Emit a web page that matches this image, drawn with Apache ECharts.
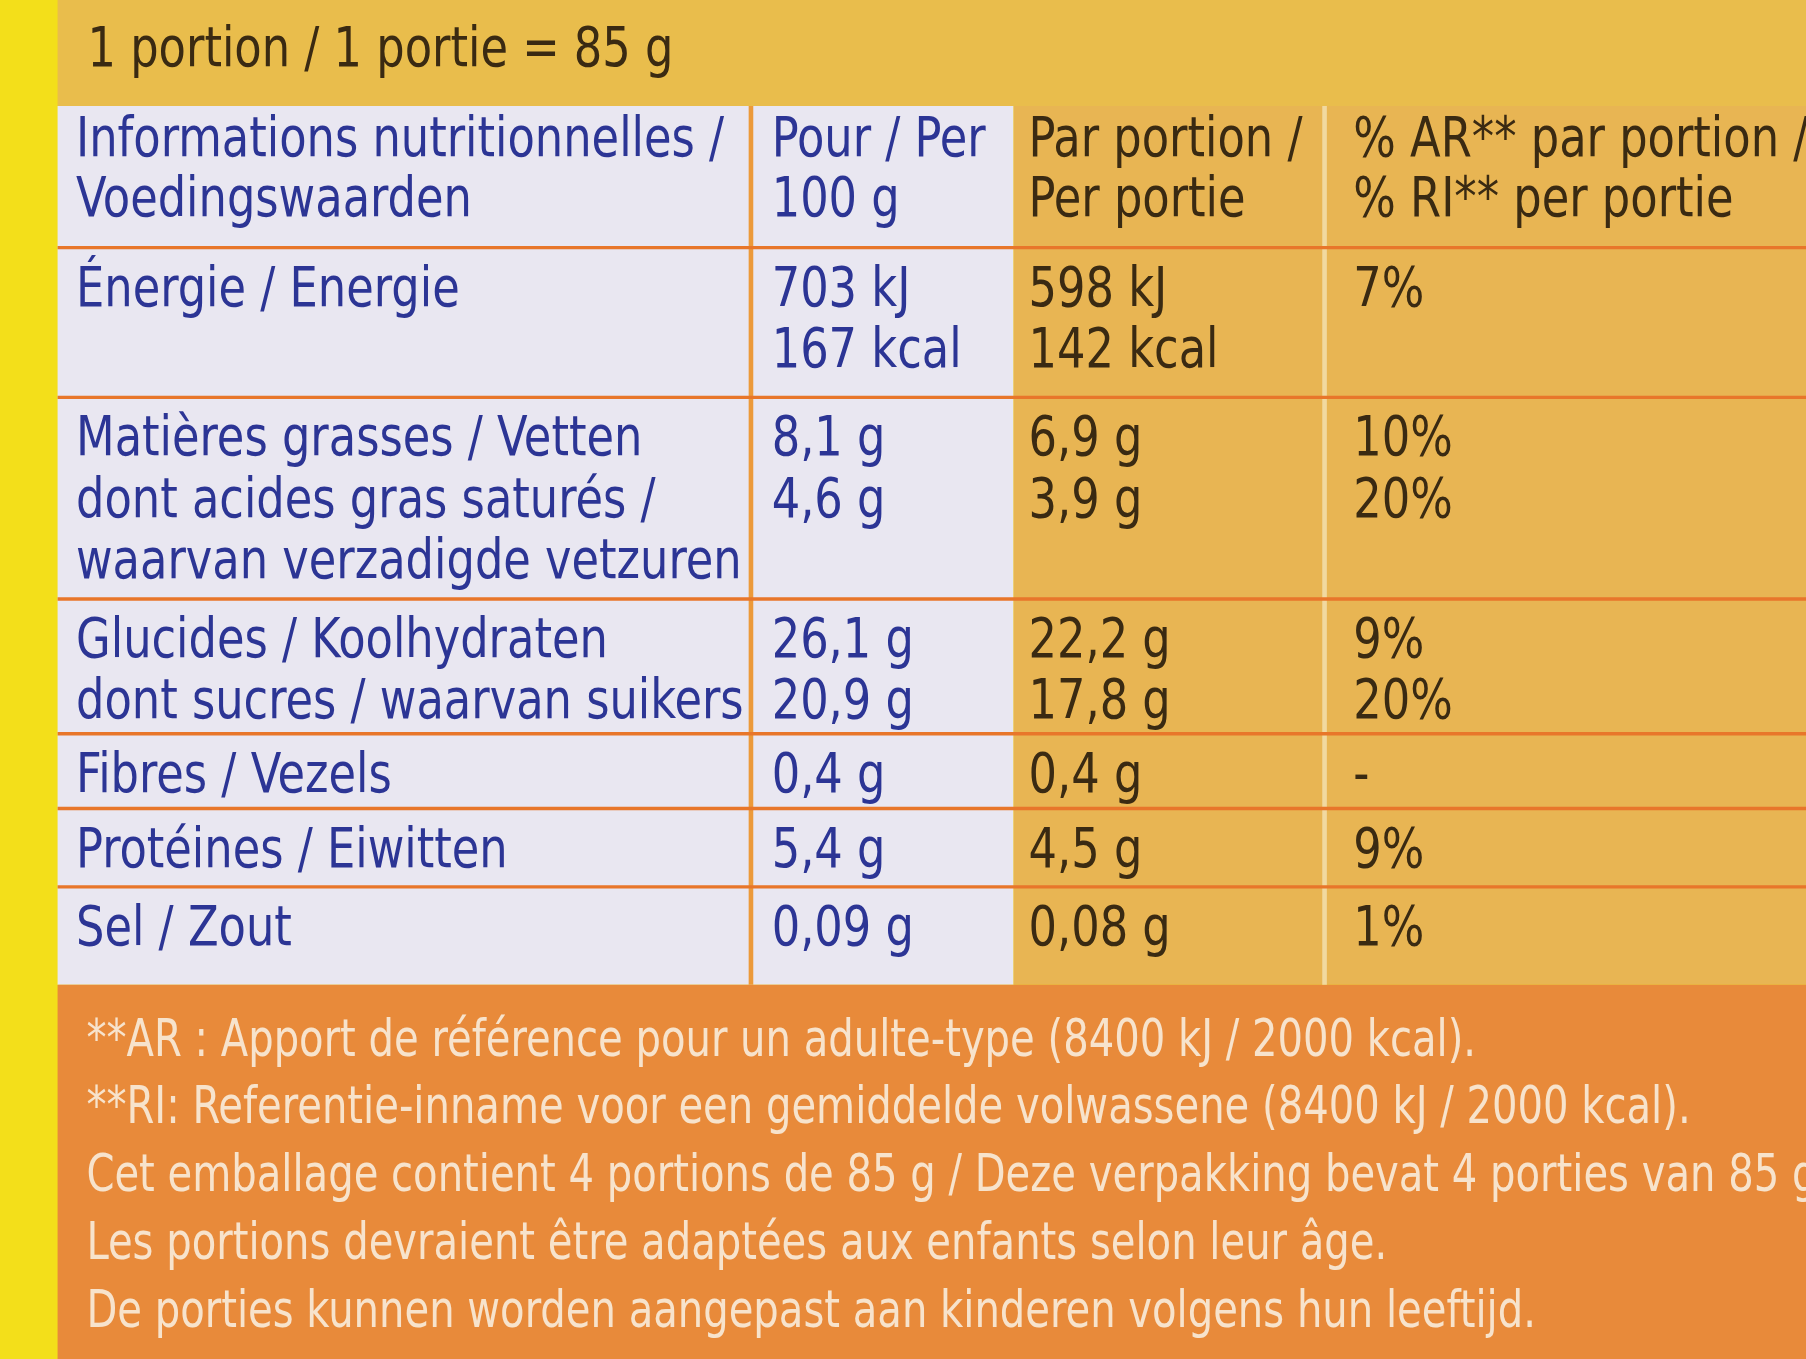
<!DOCTYPE html>
<html><head><meta charset="utf-8">
<script src="https://cdn.jsdelivr.net/npm/echarts@6/dist/echarts.min.js"></script>
<style>html,body{margin:0;padding:0;background:#f3df1a}#c{width:1806px;height:1359px}</style>
</head><body><div id="c"></div>
<script>
const portionTitle = "1 portion / 1 portie = 85 g";
const headers = [["Informations nutritionnelles /","Voedingswaarden"],["Pour / Per","100 g"],["Par portion /","Per portie"],["% AR** par portion /","% RI** per portie"]];
const nutrients = [["Énergie / Energie",""],["Matières grasses / Vetten","dont acides gras saturés /","waarvan verzadigde vetzuren"],["Glucides / Koolhydraten","dont sucres / waarvan suikers"],["Fibres / Vezels"],["Protéines / Eiwitten"],["Sel / Zout"]];
const per100 = [["703 kJ","167 kcal"],["8,1 g","4,6 g"],["26,1 g","20,9 g"],["0,4 g"],["5,4 g"],["0,09 g"]];
const perPortion = [["598 kJ","142 kcal"],["6,9 g","3,9 g"],["22,2 g","17,8 g"],["0,4 g"],["4,5 g"],["0,08 g"]];
const riPct = [["7%"],["10%","20%"],["9%","20%"],["-"],["9%"],["1%"]];
const footnotes = ["**AR : Apport de référence pour un adulte-type (8400 kJ / 2000 kcal).","**RI: Referentie-inname voor een gemiddelde volwassene (8400 kJ / 2000 kcal).","Cet emballage contient 4 portions de 85 g / Deze verpakking bevat 4 porties van 85 g.","Les portions devraient être adaptées aux enfants selon leur âge.","De porties kunnen worden aangepast aan kinderen volgens hun leeftijd."];

const S = 1806/1568;
const F = "'Liberation Sans Narrow','DejaVu Sans Condensed',sans-serif";
const rowTops = [215,345,520,637,702,770,855];
const colX = [66,670,893,1175];
const LH = 53;
const g = [];
function rect(x,y,w,h,fill){g.push({type:'rect',shape:{x:x*S,y:y*S,width:w*S,height:h*S},style:{fill}});}
function line(x1,y1,x2,y2,c,w){g.push({type:'line',shape:{x1:x1*S,y1:y1*S,x2:x2*S,y2:y2*S},style:{stroke:c,lineWidth:w*S}});}
function txt(s,x,y,c,size,sx){g.push({type:'text',x:x*S,y:y*S,originX:0,originY:0,scaleX:sx||0.9,style:{text:s,fill:c,font:`500 ${size*S}px ${F}`,textVerticalAlign:'middle'}});}
rect(0,0,1568,1180,'#f3df1a');
rect(50,0,1518,92,'#e9bd4c');
rect(50,92,830,763,'#e9e7f1');
rect(880,92,688,763,'#e8b553');
rect(50,855,1518,325,'#e88a3a');
line(652,92,652,855,'#ec9a3a',4);
line(1150,92,1150,855,'#f1d9a0',4);
rowTops.slice(0,6).forEach(y=>line(50,y,1568,y,'#e8762a',3));
const blue='#2c3595', dark='#3a2a12';
txt(portionTitle,76,45,dark,48);
headers.forEach((h,i)=>h.forEach((s,j)=>txt(s,colX[i],123+j*52,i<2?blue:dark,48)));
const cols=[nutrients,per100,perPortion,riPct];
rowTops.slice(0,6).forEach((top,r)=>{
  cols.forEach((col,i)=>col[r].forEach((s,j)=>{ if(s) txt(s,colX[i],top+38+j*LH,i<2?blue:dark,48); }));
});
footnotes.forEach((s,i)=>txt(s,75,905+i*59,'#f7e3cc',44,0.88));
const chart=echarts.init(document.getElementById('c'));
chart.setOption({animation:false,graphic:g});
</script></body></html>
